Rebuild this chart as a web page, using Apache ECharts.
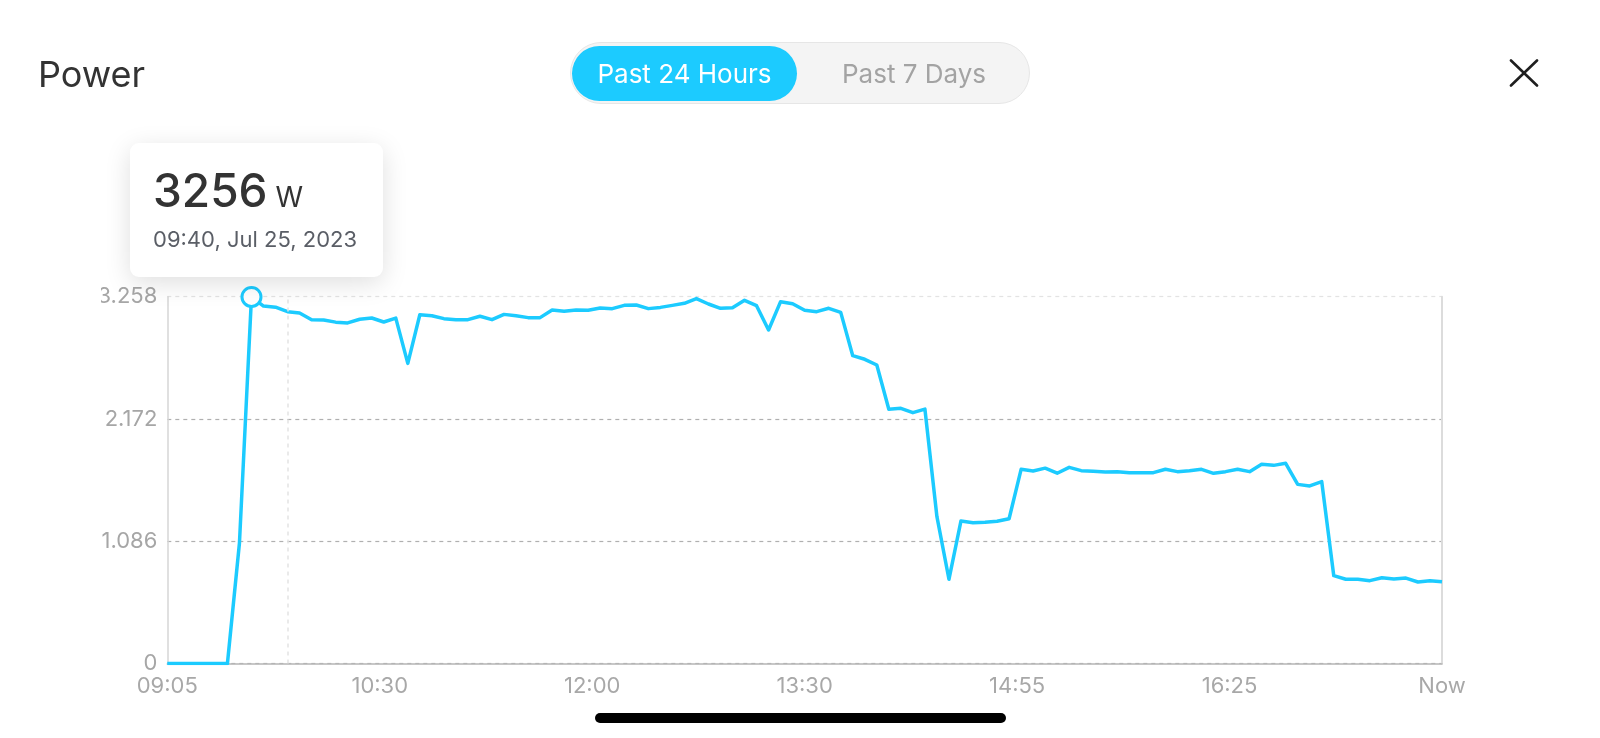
<!DOCTYPE html>
<html>
<head>
<meta charset="utf-8">
<script src="https://cdn.jsdelivr.net/npm/echarts@6/dist/echarts.min.js"></script>
<style>
html,body{margin:0;padding:0;width:1600px;height:738px;background:#fff;overflow:hidden;font-family:Inter,"Noto Sans",sans-serif;}
#clip{position:absolute;left:101px;top:0;width:1499px;height:738px;overflow:hidden;}
#chart{position:absolute;left:-101px;top:0;width:1600px;height:738px;}
#title{position:absolute;left:38px;top:56px;font-size:36px;line-height:36px;color:#333;}
#pill{position:absolute;left:570px;top:42px;width:460px;height:62px;box-sizing:border-box;border:1.5px solid #e6e6e6;border-radius:31px;background:#f4f4f4;}
#active{position:absolute;left:572px;top:46px;width:225px;height:55px;border-radius:28px;background:#1ccbff;color:#fff;font-size:26px;line-height:55px;text-align:center;}
#inactive{position:absolute;left:800px;top:46px;width:228px;height:55px;color:#a3a3a3;font-size:26px;line-height:55px;text-align:center;}
#close{position:absolute;left:1509px;top:59px;}
#tip{position:absolute;left:130px;top:143px;width:253px;height:134px;background:#fff;border-radius:9px;box-shadow:0 6px 26px rgba(0,0,0,0.13);}
#tipVal{position:absolute;left:23px;top:24px;font-size:46px;line-height:46px;font-weight:500;color:#333;white-space:nowrap;}
#tipVal span{font-size:28px;font-weight:400;}
#tipDate{position:absolute;left:23px;top:85px;font-size:22px;line-height:22px;color:#5a5e66;white-space:nowrap;}
#home{position:absolute;left:595px;top:713px;width:411px;height:10px;border-radius:5px;background:#000;}
</style>
</head>
<body>
<div id="clip"><div id="chart"></div></div>
<div id="title">Power</div>
<div id="pill"></div>
<div id="active">Past 24 Hours</div>
<div id="inactive">Past 7 Days</div>
<svg id="close" width="30" height="28" viewBox="0 0 30 28"><line x1="2" y1="1.5" x2="28" y2="26.5" stroke="#1f1f1f" stroke-width="2.6" stroke-linecap="round"/><line x1="28" y1="1.5" x2="2" y2="26.5" stroke="#1f1f1f" stroke-width="2.6" stroke-linecap="round"/></svg>
<div id="tip"><div id="tipVal"></div><div id="tipDate"></div></div>
<div id="home"></div>
<script>
// ---- data ----
const startTime = '09:05';
const stepMinutes = 5;
const power = [
  0, 0, 0, 0, 0, 0, 1.07, 3.256, 3.175, 3.165,
  3.125, 3.113, 3.054, 3.051, 3.032, 3.025, 3.058, 3.069, 3.033, 3.068,
  2.666, 3.098, 3.089, 3.063, 3.054, 3.054, 3.084, 3.054, 3.101, 3.089,
  3.072, 3.072, 3.140, 3.128, 3.140, 3.137, 3.158, 3.152, 3.181, 3.184,
  3.152, 3.163, 3.181, 3.199, 3.241, 3.193, 3.155, 3.160, 3.226, 3.178,
  2.962, 3.214, 3.196, 3.137, 3.125, 3.155, 3.119, 2.734, 2.702, 2.651,
  2.258, 2.267, 2.228, 2.260, 1.304, 0.748, 1.266, 1.251, 1.254, 1.263,
  1.286, 1.725, 1.710, 1.735, 1.690, 1.742, 1.713, 1.707, 1.701, 1.704,
  1.695, 1.695, 1.695, 1.725, 1.704, 1.713, 1.725, 1.689, 1.704, 1.725,
  1.704, 1.769, 1.760, 1.778, 1.591, 1.577, 1.615, 0.780, 0.748, 0.748,
  0.736, 0.762, 0.751, 0.759, 0.724, 0.736, 0.727
];
const xTickLabels = ['09:05', '10:30', '12:00', '13:30', '14:55', '16:25', 'Now'];
const yTickLabels = ['0', '1.086', '2.172', '3.258'];
const yMax = 3.258;
const yStep = 1.086;
const highlightIndex = 7;
const guideIndex = 10;
const dateText = 'Jul 25, 2023';

// ---- helpers ----
const lineColor = '#1ccbff';
function timeAt(i) {
  const [h, m] = startTime.split(':').map(Number);
  const t = h * 60 + m + i * stepMinutes;
  return String(Math.floor(t / 60)).padStart(2, '0') + ':' + String(t % 60).padStart(2, '0');
}
const span = (power.length - 1) * stepMinutes;
const xTickPos = xTickLabels.map((_, k) => k * span / (xTickLabels.length - 1));

const seriesData = power.map((v, i) => {
  if (i === highlightIndex) {
    return { value: [i * stepMinutes, v], symbol: 'circle', symbolSize: 19,
      itemStyle: { color: '#fff', borderColor: lineColor, borderWidth: 3 } };
  }
  return { value: [i * stepMinutes, v], symbol: 'none' };
});

document.querySelector('#tipVal').innerHTML = Math.round(power[highlightIndex] * 1000) + '<span> W</span>';
document.querySelector('#tipDate').textContent = timeAt(highlightIndex) + ', ' + dateText;

const font = 'Inter';
const chart = echarts.init(document.getElementById('chart'), null, { renderer: 'canvas' });
chart.setOption({
  animation: false,
  backgroundColor: 'transparent',
  grid: { left: 167.3, right: 158, top: 296.7, bottom: 74.5, containLabel: false, outerBoundsMode: 'none' },
  xAxis: {
    type: 'value', min: 0, max: span,
    axisLine: { show: true, lineStyle: { color: '#b5b5b5', width: 1.5 } },
    axisTick: { show: false },
    splitLine: { show: false },
    axisLabel: {
      customValues: xTickPos,
      formatter: (v) => xTickLabels[Math.round(v / (span / (xTickLabels.length - 1)))],
      color: '#a8a8a8', fontSize: 22, fontFamily: font, margin: 12,
      showMinLabel: true, showMaxLabel: true
    }
  },
  yAxis: [{
    type: 'value', min: 0, max: yMax, interval: yStep,
    axisLine: { show: true, lineStyle: { color: '#d6d6d6', width: 1.5 } },
    axisTick: { show: false },
    axisLabel: {
      formatter: (v) => yTickLabels[Math.round(v / yStep)],
      color: '#a6a6a6', fontSize: 22, fontFamily: font, margin: 10
    },
    splitLine: { show: true, lineStyle: { color: ['#b0b0b0', '#b0b0b0', '#b0b0b0', '#e3e3e3'], type: [4, 4], width: 1.2 } }
  }, {
    type: 'value', position: 'right', min: 0, max: yMax, interval: yStep,
    axisLine: { show: true, lineStyle: { color: '#dcdcdc', width: 2 } },
    axisTick: { show: false }, axisLabel: { show: false }, splitLine: { show: false }
  }],
  series: [{
    type: 'line',
    data: seriesData,
    showSymbol: true,
    showAllSymbol: true,
    symbol: 'none',
    lineStyle: { color: lineColor, width: 3.5, join: 'round' },
    itemStyle: { color: lineColor },
    markLine: {
      silent: true, symbol: 'none', label: { show: false },
      lineStyle: { color: '#e4e4e4', type: [4, 4], width: 1.5 },
      data: [{ xAxis: guideIndex * stepMinutes }]
    },
    z: 3
  }]
});
</script>
</body>
</html>
